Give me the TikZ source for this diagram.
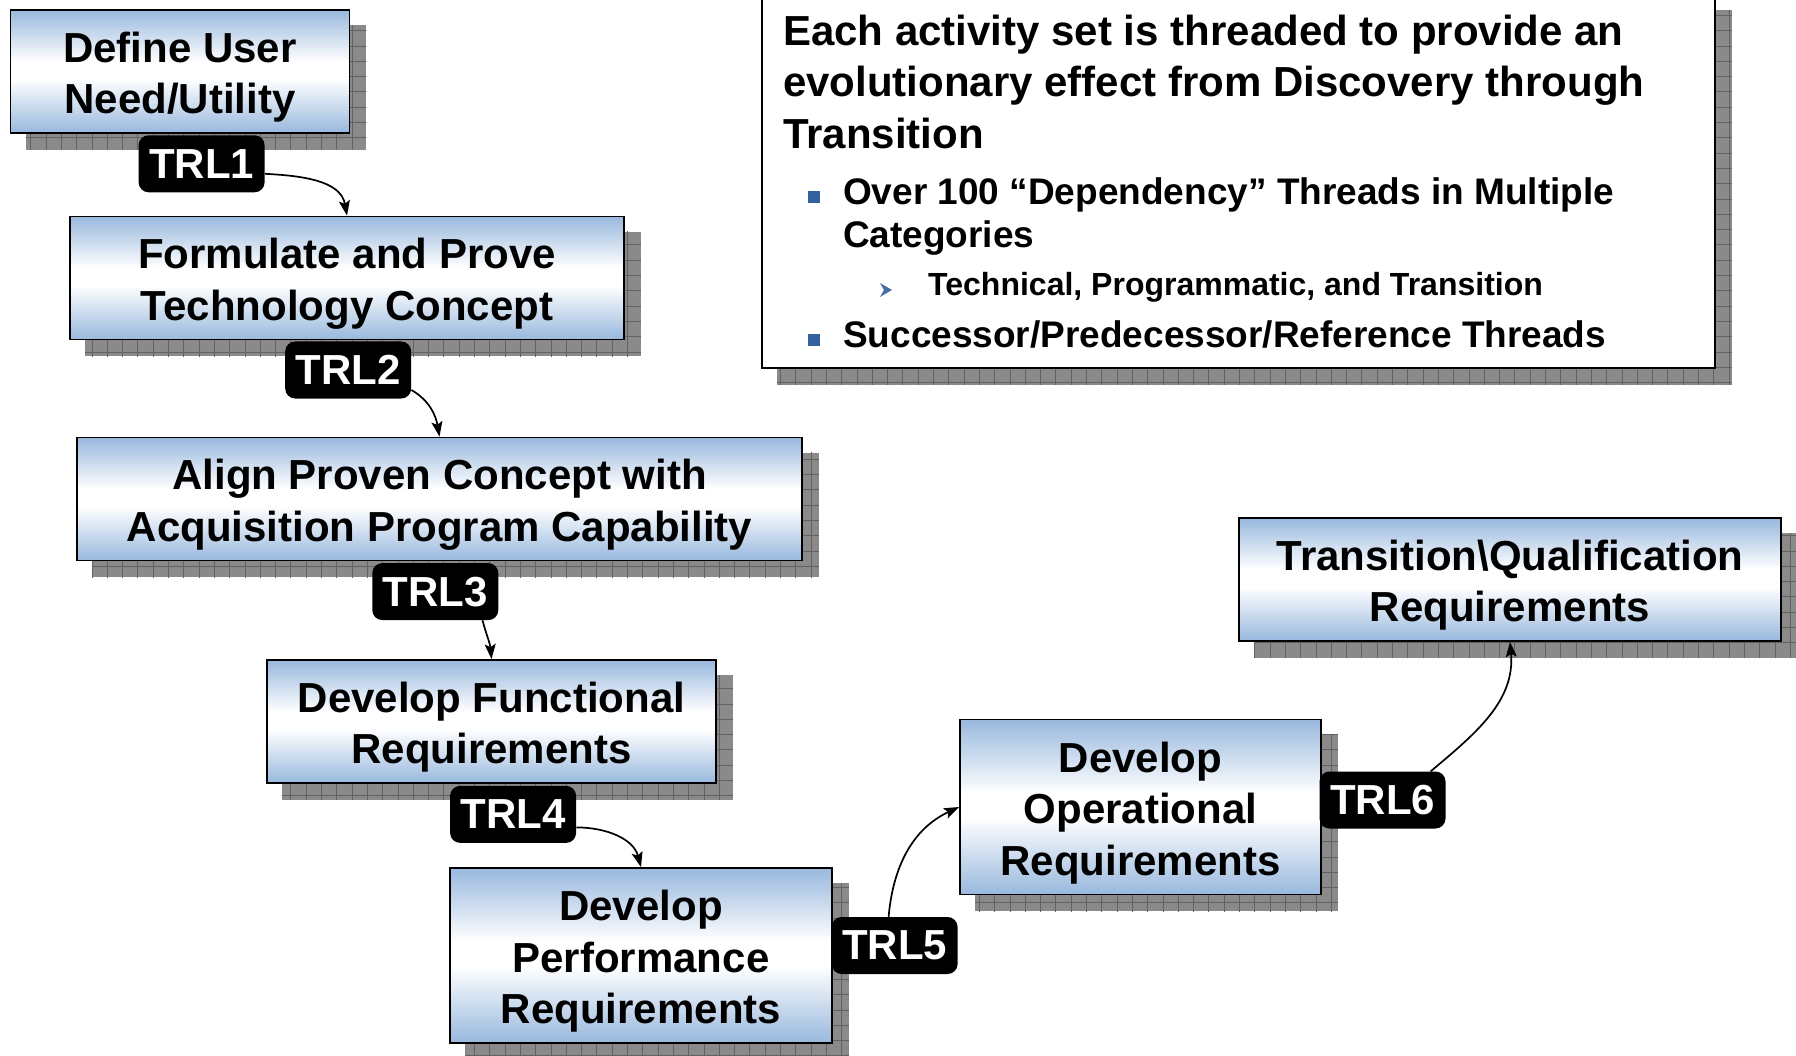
\documentclass[tikz,border=0pt]{standalone}
\usepackage{fontspec}
\setmainfont{Liberation Sans}
\usetikzlibrary{arrows.meta,calc}

\definecolor{boxblue}{RGB}{152,184,221}
\definecolor{shadowgray}{RGB}{138,138,138}
\definecolor{gridgray}{RGB}{98,98,98}
\definecolor{bulletblue}{RGB}{51,96,158}
\definecolor{chevronblue}{RGB}{70,110,170}

% blue - white - blue vertical fill of the activity boxes
\pgfdeclareverticalshading{reqshade}{100bp}{color(0bp)=(boxblue); color(25bp)=(boxblue); color(47bp)=(white); color(54bp)=(white); color(75bp)=(boxblue); color(100bp)=(boxblue)}

\pgfdeclarelayer{shadow}
\pgfsetlayers{shadow,main}

% gray grid-pattern drop shadow behind a named node
\newcommand\dropgrid[1]{%
  \begin{scope}
    \clip ($(#1.south west)+(16,-16)$) rectangle ($(#1.north east)+(16,-16)$);
    \fill[shadowgray] ($(#1.south west)+(16,-16)$) rectangle ($(#1.north east)+(16,-16)$);
    \draw[gridline] ($(#1.south west)+(0,-40)$) grid ($(#1.north east)+(40,0)$);
  \end{scope}}

% invisible strut giving the first line a full ascender height
\newcommand\topstrut{\rule{0pt}{42pt}}

\tikzset{
  boxtext/.style={font=\fontsize{42}{51.5}\selectfont\bfseries},
  reqbox/.style={draw=black, line width=1.8pt, shading=reqshade, align=center,
    boxtext, inner sep=0pt},
  notebox/.style={draw=black, line width=1.8pt, fill=white, inner sep=0pt},
  trl/.style={fill=black, rounded corners=10pt, text=white, boxtext,
    minimum width=126pt, minimum height=57pt, inner sep=0pt},
  gridline/.style={draw=gridgray, line width=0.6pt, step=15.3pt},
  link/.style={draw=black, line width=1.7pt,
    -{Stealth[length=15pt,width=11pt,inset=3pt]}},
  headline/.style={anchor=base west, inner sep=0pt, boxtext},
  bulletline/.style={anchor=base west, inner sep=0pt,
    font=\fontsize{37}{44}\selectfont\bfseries},
  subline/.style={anchor=base west, inner sep=0pt,
    font=\fontsize{32}{38}\selectfont\bfseries},
  bulletsq/.style={fill=bulletblue, minimum size=12pt, inner sep=0pt},
}

\begin{document}
\begin{tikzpicture}[x=1pt,y=1pt]
\useasboundingbox (0,0) rectangle (1796,-1056);

% activity boxes
\node[reqbox, minimum width=339pt, minimum height=123pt] (user) at (180,-71.5) {\topstrut Define User\\Need/Utility};
\node[reqbox, minimum width=554pt, minimum height=123pt] (form) at (347,-278) {\topstrut Formulate and Prove\\Technology Concept};
\node[reqbox, minimum width=725pt, minimum height=123pt] (align) at (439.5,-499) {\topstrut Align Proven Concept with\\Acquisition Program Capability};
\node[reqbox, minimum width=449pt, minimum height=123pt] (func) at (491.5,-721.5) {\topstrut Develop Functional\\Requirements};
\node[reqbox, minimum width=382pt, minimum height=175pt] (perf) at (641,-955.5) {\topstrut Develop\\Performance\\Requirements};
\node[reqbox, minimum width=361pt, minimum height=175pt] (oper) at (1140.5,-807) {\topstrut Develop\\Operational\\Requirements};
\node[reqbox, minimum width=542pt, minimum height=123pt] (trans) at (1510,-579.5) {\topstrut Transition\textbackslash Qualification\\Requirements};

% explanatory note
\node[notebox, minimum width=953pt, minimum height=373pt] (note) at (1238.5,-181.5) {};
\node[headline] (t1) at (783,-46) {Each activity set is threaded to provide an};
\node[headline] (t2) at (783,-97) {evolutionary effect from Discovery through};
\node[headline] (t3) at (783,-149) {Transition};
\node[bulletsq] (sq1) at (814,-197.5) {};
\node[bulletline] (b1a) at (843,-205) {Over 100 “Dependency” Threads in Multiple};
\node[bulletline] (b1b) at (843,-248) {Categories};
\fill[chevronblue] (880,-283) -- (892,-290) -- (880,-297) -- (884,-290) -- cycle;
\node[subline] (s1) at (928,-296) {Technical, Programmatic, and Transition};
\node[bulletsq] (sq2) at (814,-340.5) {};
\node[bulletline] (b2) at (843,-348) {Successor/Predecessor/Reference Threads};

% grid shadows
\begin{pgfonlayer}{shadow}
  \dropgrid{user}
  \dropgrid{form}
  \dropgrid{align}
  \dropgrid{func}
  \dropgrid{perf}
  \dropgrid{oper}
  \dropgrid{trans}
  \dropgrid{note}
\end{pgfonlayer}

% readiness level tags
\node[trl] (trl1) at (201.6,-163.8) {TRL1};
\node[trl] (trl2) at (348.2,-370) {TRL2};
\node[trl] (trl3) at (435.3,-591.6) {TRL3};
\node[trl] (trl4) at (513.1,-814.4) {TRL4};
\node[trl] (trl5) at (894.6,-945.5) {TRL5};
\node[trl] (trl6) at (1382.5,-800) {TRL6};

% threads between activities
\draw[link] ($(trl1.east)+(0,-10)$) to[out=-3, in=100] (form.north);
\draw[link] ($(trl2.east)+(0,-20)$) to[out=-30, in=100] (align.north);
\draw[link] ($(trl3.south east)+(-16,0)$) to[out=-75, in=95] (func.north);
\draw[link] ($(trl4.east)+(0,-13)$) to[out=0, in=105] (perf.north);
\draw[link] ($(trl5.north)+(-6,0)$) to[out=85, in=205] (oper.west);
\draw[link] ($(trl6.north east)+(-15,0)$) to[out=40, in=-85] (trans.south);
\end{tikzpicture}
\end{document}
